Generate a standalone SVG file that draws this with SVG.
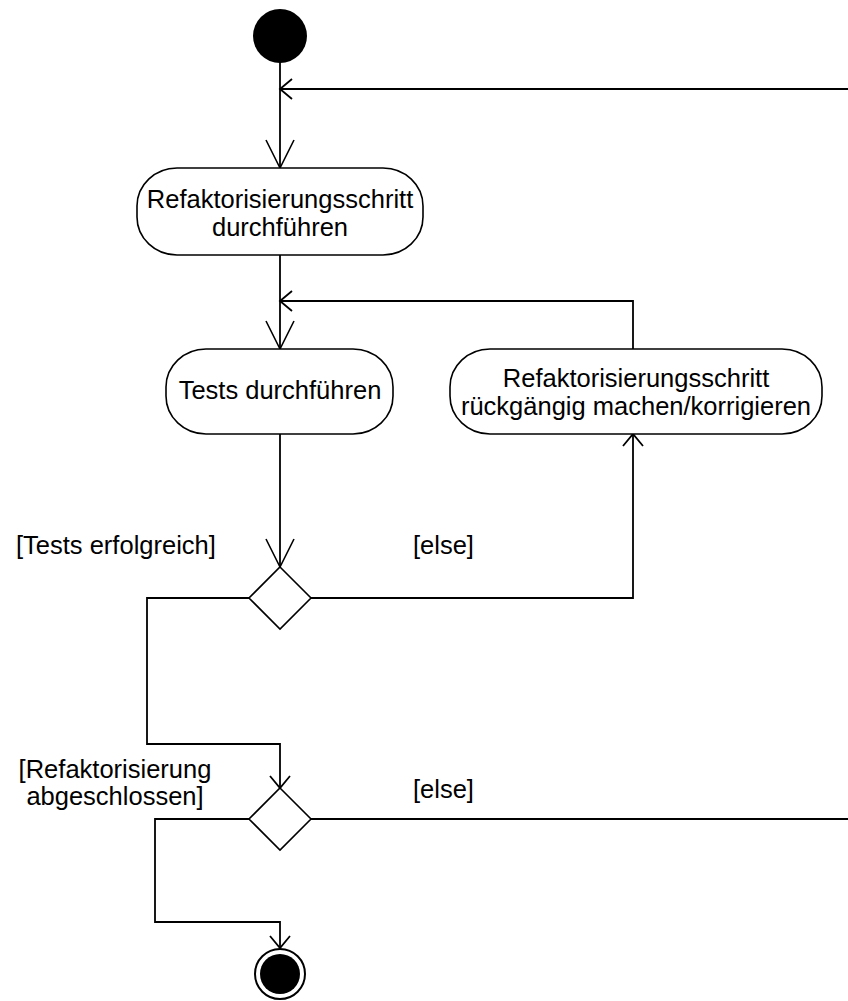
<svg xmlns="http://www.w3.org/2000/svg" width="848" height="1001" viewBox="0 0 848 1001">
<style>
  .bg { fill: #ffffff; }
  .shape { fill: #ffffff; stroke: #000000; stroke-width: 1.6; }
  .conn { fill: none; stroke: #000000; stroke-width: 1.8; }
  .txt { font-family: "Liberation Sans", Arial, sans-serif; font-size: 25.5px; fill: #000000; }
  .mid { text-anchor: middle; }
</style>
<defs>
  <marker id="bigOpen" markerUnits="userSpaceOnUse" markerWidth="32" markerHeight="32" refX="28" refY="14" orient="auto" overflow="visible">
    <path d="M0,0 L28,14 L0,28" fill="none" stroke="#000" stroke-width="1.6"/>
  </marker>
  <marker id="smallOpen" markerUnits="userSpaceOnUse" markerWidth="16" markerHeight="24" refX="12" refY="10" orient="auto" overflow="visible">
    <path d="M0,0 L12,10 L0,20" fill="none" stroke="#000" stroke-width="1.8"/>
  </marker>
</defs>
<rect class="bg" x="0" y="0" width="848" height="1001"/>

<g id="connectors">
  <path class="conn" d="M280,62 L280,168" marker-end="url(#bigOpen)"/>
  <path class="conn" d="M848,89 L280,89" marker-end="url(#smallOpen)"/>
  <path class="conn" d="M280,255 L280,349" marker-end="url(#bigOpen)"/>
  <path class="conn" d="M633,349 L633,301 L280,301" marker-end="url(#smallOpen)"/>
  <path class="conn" d="M280,434 L280,567" marker-end="url(#bigOpen)"/>
  <path class="conn" d="M310,598 L633,598 L633,434" marker-end="url(#smallOpen)"/>
  <path class="conn" d="M249,598 L147,598 L147,744 L280,744 L280,788" marker-end="url(#smallOpen)"/>
  <path class="conn" d="M311,819 L848,819"/>
  <path class="conn" d="M249,819 L155,819 L155,922 L280,922 L280,948" marker-end="url(#smallOpen)"/>
</g>

<g id="start">
  <circle cx="280" cy="36" r="27" fill="#000"/>
</g>

<g id="act-refactor">
  <rect class="shape" x="137" y="168" width="286" height="87" rx="40" ry="38"/>
  <text class="txt mid" x="280" y="208">Refaktorisierungsschritt</text>
  <text class="txt mid" x="280" y="236">durchführen</text>
</g>

<g id="act-tests">
  <rect class="shape" x="166" y="349" width="227" height="85" rx="40" ry="38"/>
  <text class="txt mid" x="280" y="399">Tests durchführen</text>
</g>

<g id="act-undo">
  <rect class="shape" x="450" y="349" width="372" height="85" rx="40" ry="38"/>
  <text class="txt mid" x="636" y="387">Refaktorisierungsschritt</text>
  <text class="txt mid" x="636" y="415">rückgängig machen/korrigieren</text>
</g>

<g id="decision-tests">
  <polygon class="shape" points="280,567 311,598 280,629 249,598"/>
  <text class="txt" x="16" y="554">[Tests erfolgreich]</text>
  <text class="txt" x="413" y="554">[else]</text>
</g>

<g id="decision-done">
  <polygon class="shape" points="280,788 311,819 280,850 249,819"/>
  <text class="txt mid" x="115" y="778">[Refaktorisierung</text>
  <text class="txt mid" x="115" y="805">abgeschlossen]</text>
  <text class="txt" x="413" y="798">[else]</text>
</g>

<g id="end">
  <circle cx="280" cy="974" r="25" fill="#fff" stroke="#000" stroke-width="2"/>
  <circle cx="280" cy="974" r="20" fill="#000"/>
</g>
</svg>
